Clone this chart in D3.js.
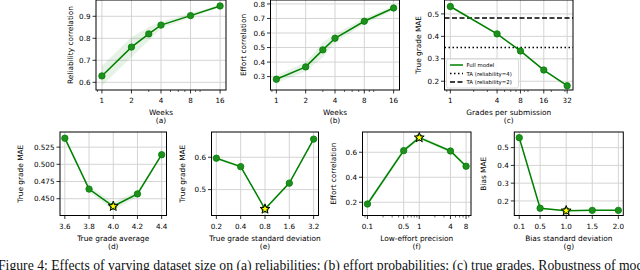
<!DOCTYPE html>
<html>
<head>
<meta charset="utf-8">
<script src="https://cdn.jsdelivr.net/npm/d3@7"></script>
<style>
  body { margin: 0; background: #fff; }
  svg { display: block; }
</style>
</head>
<body>
<div id="chart"></div>
<script>
// Data
const weeks = [1, 2, 3, 4, 8, 16];
const reliabilityCorr = [0.629, 0.760, 0.820, 0.860, 0.903, 0.947];
const reliabilityBand = [0.045, 0.045, 0.03, 0.015, 0.01, 0.006];
const effortCorr = [0.282, 0.367, 0.484, 0.564, 0.681, 0.772];
const effortBand = [0.025, 0.03, 0.05, 0.03, 0.02, 0.015];

const gradesPerSubmission = [1, 4, 8, 16, 32];
const gradeMae = [0.533, 0.411, 0.335, 0.250, 0.180];
const gradeMaeBand = [0.005, 0.005, 0.005, 0.004, 0.004];
const taReliability4 = 0.35;
const taReliability2 = 0.482;

const trueGradeAvg = [3.6, 3.8, 4.0, 4.2, 4.4];
const avgMae = [0.538, 0.464, 0.439, 0.457, 0.514];
const avgBand = [0.002, 0.004, 0.006, 0.004, 0.002];

const trueGradeSd = [0.2, 0.4, 0.8, 1.6, 3.2];
const sdMae = [0.597, 0.571, 0.440, 0.520, 0.656];
const sdBand = [0.004, 0.004, 0.005, 0.004, 0.004];

const lowEffortPrecision = [0.1, 0.5, 1, 4, 8];
const precisionCorr = [0.186, 0.613, 0.717, 0.610, 0.488];
const precisionBand = [0.02, 0.02, 0.015, 0.015, 0.015];

const biasSd = [0.1, 0.5, 1.0, 1.5, 2.0];
const biasMae = [0.556, 0.159, 0.145, 0.147, 0.147];
const biasBand = [0.004, 0.003, 0.003, 0.003, 0.003];

const width = 640, height = 270;
const green = "#008000";
const font = "DejaVu Sans, sans-serif";

const svg = d3.select("#chart").append("svg")
  .attr("width", width)
  .attr("height", height);

// padded domain, like matplotlib's 5% margins
function padDomain(vals, log) {
  const lo = d3.min(vals), hi = d3.max(vals);
  if (log) {
    const k = Math.pow(hi / lo, 0.05);
    return [lo / k, hi * k];
  }
  const m = (hi - lo) * 0.05;
  return [lo - m, hi + m];
}

function drawPanel(p) {
  const x = p.xLog
    ? d3.scaleLog().base(p.xLog).domain(padDomain(p.xs, true)).range([p.left, p.right])
    : d3.scaleLinear().domain(padDomain(p.xs, false)).range([p.left, p.right]);
  const y = d3.scaleLinear().domain(p.yDomain).range([p.bottom, p.top]);

  const g = svg.append("g");
  const clipId = "clip-" + p.id;
  g.append("clipPath").attr("id", clipId)
    .append("rect")
    .attr("x", p.left).attr("y", p.top)
    .attr("width", p.right - p.left).attr("height", p.bottom - p.top);

  // grid
  const grid = g.append("g").attr("clip-path", `url(#${clipId})`);
  grid.selectAll(".gx").data(p.xTicks).enter().append("line")
    .attr("x1", d => x(d)).attr("x2", d => x(d))
    .attr("y1", p.top).attr("y2", p.bottom)
    .attr("stroke", "#d4d4d4").attr("stroke-width", 1);
  grid.selectAll(".gy").data(p.yTicks).enter().append("line")
    .attr("x1", p.left).attr("x2", p.right)
    .attr("y1", d => y(d)).attr("y2", d => y(d))
    .attr("stroke", "#d4d4d4").attr("stroke-width", 1);

  const pts = p.xs.map((v, i) => ({ x: v, y: p.ys[i], e: p.band[i] }));

  // shaded band
  grid.append("path")
    .datum(pts)
    .attr("fill", green)
    .attr("fill-opacity", 0.1)
    .attr("d", d3.area().x(d => x(d.x)).y0(d => y(d.y - d.e)).y1(d => y(d.y + d.e)));

  // horizontal reference lines
  (p.hlines || []).forEach(h => {
    grid.append("line")
      .attr("x1", p.left).attr("x2", p.right)
      .attr("y1", y(h.value)).attr("y2", y(h.value))
      .attr("stroke", "#000").attr("stroke-width", 1.5)
      .attr("stroke-dasharray", h.dash);
  });

  // line + markers
  g.append("path")
    .datum(pts)
    .attr("fill", "none")
    .attr("stroke", green)
    .attr("stroke-width", 1.5)
    .attr("d", d3.line().x(d => x(d.x)).y(d => y(d.y)));

  g.selectAll(".dot").data(pts).enter().append("circle")
    .attr("cx", d => x(d.x)).attr("cy", d => y(d.y))
    .attr("r", 3.2)
    .attr("fill", "#1f8f1f")
    .attr("stroke", green)
    .attr("stroke-width", 0.8);

  if (p.star != null) {
    const s = pts[p.star];
    g.append("path")
      .attr("transform", `translate(${x(s.x)},${y(s.y)})`)
      .attr("d", d3.symbol().type(d3.symbolStar).size(30)())
      .attr("fill", "#ffff00")
      .attr("stroke", "#000")
      .attr("stroke-width", 1);
  }

  // frame
  g.append("rect")
    .attr("x", p.left).attr("y", p.top)
    .attr("width", p.right - p.left).attr("height", p.bottom - p.top)
    .attr("fill", "none").attr("stroke", "#000").attr("stroke-width", 1);

  // x ticks
  const minor = (p.xMinor || []).filter(v => {
    const px = x(v);
    return px >= p.left - 0.1 && px <= p.right + 0.1;
  });
  g.selectAll(".mx").data(minor).enter().append("line")
    .attr("x1", d => x(d)).attr("x2", d => x(d))
    .attr("y1", p.bottom).attr("y2", p.bottom + 2)
    .attr("stroke", "#000").attr("stroke-width", 0.6);
  g.selectAll(".tx").data(p.xTicks).enter().append("line")
    .attr("x1", d => x(d)).attr("x2", d => x(d))
    .attr("y1", p.bottom).attr("y2", p.bottom + 3.5)
    .attr("stroke", "#000").attr("stroke-width", 0.8);
  g.selectAll(".lx").data(p.xTicks).enter().append("text")
    .attr("x", d => x(d)).attr("y", p.bottom + 13)
    .attr("text-anchor", "middle")
    .attr("font-family", font).attr("font-size", 7.2)
    .text((d, i) => p.xLabels[i]);

  // y ticks
  g.selectAll(".ty").data(p.yTicks).enter().append("line")
    .attr("x1", p.left - 3.5).attr("x2", p.left)
    .attr("y1", d => y(d)).attr("y2", d => y(d))
    .attr("stroke", "#000").attr("stroke-width", 0.8);
  g.selectAll(".ly").data(p.yTicks).enter().append("text")
    .attr("x", p.left - 5.5).attr("y", d => y(d) + 2.6)
    .attr("text-anchor", "end")
    .attr("font-family", font).attr("font-size", 7.2)
    .text((d, i) => p.yLabels[i]);

  // axis titles
  const cx = (p.left + p.right) / 2;
  g.append("text")
    .attr("x", cx).attr("y", p.bottom + 25)
    .attr("text-anchor", "middle")
    .attr("font-family", font).attr("font-size", 7.4)
    .text(p.xTitle);
  g.append("text")
    .attr("x", cx).attr("y", p.bottom + 33)
    .attr("text-anchor", "middle")
    .attr("font-family", font).attr("font-size", 7.4)
    .text(p.sub);
  g.append("text")
    .attr("transform", `translate(${p.yTitleX},${(p.top + p.bottom) / 2}) rotate(-90)`)
    .attr("text-anchor", "middle")
    .attr("font-family", font).attr("font-size", 7.4)
    .text(p.yTitle);

  return { x, y };
}

const weekMinor = [0.9, 3, 5, 6, 7, 9, 10, 20];
const fmt = d3.format(".1f");

drawPanel({
  id: "a", left: 96, right: 226, top: 0, bottom: 90,
  xs: weeks, ys: reliabilityCorr, band: reliabilityBand, xLog: 2,
  xTicks: [1, 2, 4, 8, 16], xLabels: ["1", "2", "4", "8", "16"], xMinor: weekMinor,
  yDomain: [0.565, 0.974], yTicks: [0.6, 0.7, 0.8, 0.9], yLabels: ["0.6", "0.7", "0.8", "0.9"],
  xTitle: "Weeks", sub: "(a)", yTitle: "Reliability correlation", yTitleX: 73
});

drawPanel({
  id: "b", left: 270.5, right: 399.5, top: 0, bottom: 90,
  xs: weeks, ys: effortCorr, band: effortBand, xLog: 2,
  xTicks: [1, 2, 4, 8, 16], xLabels: ["1", "2", "4", "8", "16"], xMinor: weekMinor,
  yDomain: [0.208, 0.827], yTicks: [0.3, 0.4, 0.5, 0.6, 0.7, 0.8],
  yLabels: ["0.3", "0.4", "0.5", "0.6", "0.7", "0.8"],
  xTitle: "Weeks", sub: "(b)", yTitle: "Effort correlation", yTitleX: 246
});

const legendItems = [
  { label: "Full model", dash: null, color: green },
  { label: "TA (reliability=4)", dash: "1.5,2.5", color: "#000" },
  { label: "TA (reliability=2)", dash: "5,2.5", color: "#000" }
];

drawPanel({
  id: "c", left: 444.5, right: 573, top: 0, bottom: 90,
  xs: gradesPerSubmission, ys: gradeMae, band: gradeMaeBand, xLog: 2,
  xTicks: [1, 4, 8, 16, 32], xLabels: ["1", "4", "8", "16", "32"],
  xMinor: [0.9, 2, 3, 5, 6, 7, 9, 10, 20, 30],
  yDomain: [0.161, 0.562], yTicks: [0.2, 0.3, 0.4, 0.5], yLabels: ["0.2", "0.3", "0.4", "0.5"],
  hlines: [{ value: taReliability4, dash: "1.5,2.5" }, { value: taReliability2, dash: "5,2.5" }],
  xTitle: "Grades per submission", sub: "(c)", yTitle: "True grade MAE", yTitleX: 421
});

// legend for panel (c)
const lg = svg.append("g").attr("transform", "translate(446.5,59)");
lg.append("rect")
  .attr("width", 72).attr("height", 29).attr("rx", 2)
  .attr("fill", "#fff").attr("fill-opacity", 0.85)
  .attr("stroke", "#ccc").attr("stroke-width", 0.7);
legendItems.forEach((d, i) => {
  const yy = 6 + i * 8.5;
  lg.append("line")
    .attr("x1", 3.5).attr("x2", 16.5).attr("y1", yy).attr("y2", yy)
    .attr("stroke", d.color).attr("stroke-width", 1.5)
    .attr("stroke-dasharray", d.dash);
  lg.append("text")
    .attr("x", 20).attr("y", yy + 2)
    .attr("font-family", font).attr("font-size", 5.4)
    .text(d.label);
});

drawPanel({
  id: "d", left: 60, right: 166.5, top: 132, bottom: 215.5,
  xs: trueGradeAvg, ys: avgMae, band: avgBand, xLog: null, star: 2,
  xTicks: trueGradeAvg, xLabels: trueGradeAvg.map(fmt),
  yDomain: [0.4256, 0.547], yTicks: [0.45, 0.475, 0.5, 0.525],
  yLabels: ["0.450", "0.475", "0.500", "0.525"],
  xTitle: "True grade average", sub: "(d)", yTitle: "True grade MAE", yTitleX: 23
});

drawPanel({
  id: "e", left: 211.5, right: 318.5, top: 132, bottom: 215.5,
  xs: trueGradeSd, ys: sdMae, band: sdBand, xLog: 2, star: 2,
  xTicks: trueGradeSd, xLabels: trueGradeSd.map(fmt),
  yDomain: [0.42, 0.678], yTicks: [0.5, 0.6], yLabels: ["0.5", "0.6"],
  xTitle: "True grade standard deviation", sub: "(e)", yTitle: "True grade MAE", yTitleX: 185
});

drawPanel({
  id: "f", left: 362.5, right: 471, top: 132, bottom: 215.5,
  xs: lowEffortPrecision, ys: precisionCorr, band: precisionBand, xLog: 10, star: 2,
  xTicks: lowEffortPrecision, xLabels: ["0.1", "0.5", "1", "4", "8"],
  xMinor: [0.09, 0.2, 0.3, 0.4, 0.6, 0.7, 0.8, 0.9, 2, 3, 5, 6, 7, 9],
  yDomain: [0.094, 0.762], yTicks: [0.2, 0.4, 0.6], yLabels: ["0.2", "0.4", "0.6"],
  xTitle: "Low-effort precision", sub: "(f)", yTitle: "Effort correlation", yTitleX: 336
});

drawPanel({
  id: "g", left: 514.3, right: 623.3, top: 132, bottom: 215.5,
  xs: biasSd, ys: biasMae, band: biasBand, xLog: null, star: 2,
  xTicks: biasSd, xLabels: biasSd.map(fmt),
  yDomain: [0.118, 0.588], yTicks: [0.2, 0.3, 0.4, 0.5], yLabels: ["0.2", "0.3", "0.4", "0.5"],
  xTitle: "Bias standard deviation", sub: "(g)", yTitle: "Bias MAE", yTitleX: 486
});

// caption (cut off by the frame, as in the source)
svg.append("text")
  .attr("x", -2).attr("y", 270)
  .attr("font-family", "Liberation Serif, Times New Roman, serif")
  .attr("font-size", 13.7)
  .attr("fill", "#111")
  .text("Figure 4: Effects of varying dataset size on (a) reliabilities; (b) effort probabilities; (c) true grades. Robustness of model");
</script>
</body>
</html>
